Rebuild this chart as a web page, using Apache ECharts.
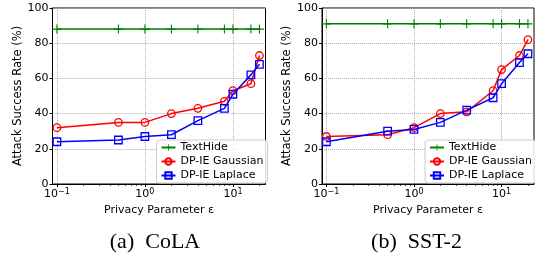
<!DOCTYPE html>
<html><head><meta charset="utf-8">
<script src="https://cdn.jsdelivr.net/npm/echarts@6/dist/echarts.min.js"></script>
<style>html,body{margin:0;padding:0;background:#fff}#c{width:535px;height:262px}</style>
</head><body><div id="c"></div>
<script>
const epsilons = [0.1, 0.5, 1, 2, 4, 8, 10, 16, 20];
const colaTextHide = [88, 88, 88, 88, 88, 88, 88, 88, 88];
const colaGaussian = [32, 35, 35, 40, 43, 47, 53, 57, 73];
const colaLaplace = [24, 25, 27, 28, 36, 43, 51, 62, 68];
const sstTextHide = [91, 91, 91, 91, 91, 91, 91, 91, 91];
const sstGaussian = [27, 28, 32, 40, 41, 53, 65, 73, 82];
const sstLaplace = [24, 30, 31, 35, 42, 49, 57, 69, 74];
const majorTicks = [0.1, 1, 10];
const minorTicks = [0.2,0.3,0.4,0.5,0.6,0.7,0.8,0.9,2,3,4,5,6,7,8,9,20];
const yTicks = [0, 20, 40, 60, 80, 100];
const captions = ['(a)\u2002CoLA', '(b)\u2002SST-2'];
const seriesNames = ['TextHide', 'DP-IE Gaussian', 'DP-IE Laplace'];

const FONT = 'DejaVu Sans';
const XMIN = Math.pow(10, -1.05), XMAX = Math.pow(10, 1.37);
const pair = arr => epsilons.map((e, i) => [e, arr[i]]);
const plusPath = 'path://M0,4.4H10V5.6H0Z M4.4,0H5.6V10H4.4Z';

const grids = [
  {left: 52.5, top: 8, width: 213, height: 176},
  {left: 322, top: 8, width: 212, height: 176}
];

function supFmt(v) {
  const e = Math.round(Math.log10(v));
  return '10{s|' + (e < 0 ? '\u2212' + (-e) : e) + '}';
}

const xAxes = [], yAxes = [], series = [], legends = [], titles = [];
const dataSets = [[colaTextHide, colaGaussian, colaLaplace], [sstTextHide, sstGaussian, sstLaplace]];
const colors = ['#008000', '#ff0000', '#0000ff'];

grids.forEach((g, gi) => {
  xAxes.push({
    type: 'log', gridIndex: gi, position: 'bottom', min: XMIN, max: XMAX, logBase: 10,
    name: 'Privacy Parameter \u03b5', nameLocation: 'middle', nameGap: 15,
    nameTextStyle: {fontFamily: FONT, fontSize: 11, color: '#000'},
    axisLine: {show: true, lineStyle: {color: '#000', width: 1}},
    axisTick: {show: true, length: 3, lineStyle: {color: '#000'}, customValues: majorTicks},
    axisLabel: {customValues: majorTicks, formatter: supFmt, margin: 4, color: '#000',
      fontFamily: FONT, fontSize: 11,
      rich: {s: {fontSize: 8, fontFamily: FONT, color: '#000', verticalAlign: 'top', padding: [0, 0, 5, 0]}}},
    splitLine: {show: true, lineStyle: {color: '#b0b0b0', type: 'dotted', width: 1}}
  });
  xAxes.push({
    type: 'log', gridIndex: gi, position: 'bottom', min: XMIN, max: XMAX, logBase: 10,
    axisLine: {show: false},
    axisTick: {show: true, length: 2, lineStyle: {color: '#000', width: 0.7}, customValues: minorTicks},
    axisLabel: {show: false},
    splitLine: {show: false}
  });
  yAxes.push({
    type: 'value', gridIndex: gi, min: 0, max: 100, interval: 20,
    name: 'Attack Success Rate (%)', nameLocation: 'middle', nameGap: 27,
    nameTextStyle: {fontFamily: FONT, fontSize: 11.5, color: '#000'},
    axisLine: {show: true, lineStyle: {color: '#000', width: 1}},
    axisTick: {show: true, length: 3, lineStyle: {color: '#000'}},
    axisLabel: {margin: 4, color: '#000', fontFamily: FONT, fontSize: 11},
    splitLine: {show: true, lineStyle: {color: '#b0b0b0', type: 'dotted', width: 1}}
  });
  dataSets[gi].forEach((arr, si) => {
    const c = colors[si];
    const s = {
      type: 'line', name: seriesNames[si], xAxisIndex: gi * 2, yAxisIndex: gi,
      data: pair(arr), lineStyle: {color: c, width: 1.5}, z: 3 + si,
      animation: false, showAllSymbol: true
    };
    if (si === 0) {
      s.symbol = plusPath; s.symbolSize = 9;
      s.itemStyle = {color: c, borderWidth: 0};
    } else {
      s.symbol = si === 1 ? 'circle' : 'rect';
      s.symbolSize = 7.5;
      s.itemStyle = {color: 'rgba(255,255,255,0)', borderColor: c, borderWidth: 1.3};
    }
    series.push(s);
  });
  legends.push({
    orient: 'vertical',
    left: g.left + g.width - 109, top: 140,
    data: seriesNames,
    itemWidth: 14, itemHeight: 8, itemGap: 3,
    backgroundColor: 'rgba(255,255,255,0.85)', borderColor: '#cccccc', borderWidth: 1, borderRadius: 3,
    padding: [2, 4, 2, 4],
    textStyle: {fontFamily: FONT, fontSize: 11, color: '#000', padding: [0, 0, 0, 0]},
    selectedMode: false
  });
  titles.push({
    text: captions[gi],
    left: gi === 0 ? 150 : 411.5, textAlign: 'center', top: 226,
    textStyle: {fontFamily: 'Liberation Serif', fontSize: 22, fontWeight: 'normal', color: '#000'}
  });
});

grids.forEach(g => { g.show = true; g.borderColor = '#000'; g.borderWidth = 1; g.backgroundColor = 'transparent'; g.containLabel = false; });

const chart = echarts.init(document.getElementById('c'), null, {renderer: 'canvas'});
chart.setOption({
  animation: false,
  grid: grids, xAxis: xAxes, yAxis: yAxes, series: series, legend: legends, title: titles
});
</script></body></html>
